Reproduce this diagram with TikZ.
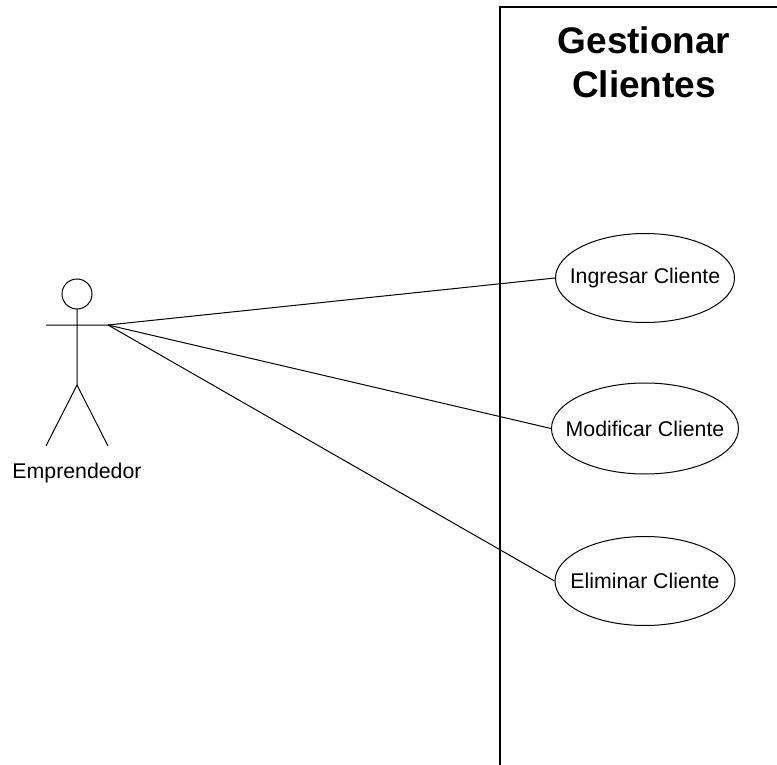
\documentclass[tikz,border=0pt]{standalone}
\usepackage{fontspec}
\setmainfont{Liberation Sans}
\usetikzlibrary{shapes.geometric}
\begin{document}
\begin{tikzpicture}[x=1pt,y=-1pt,line width=1pt,
  usecase/.style={draw,ellipse,inner sep=0pt,label={[inner sep=0pt,font=\fontsize{21.3}{25}\selectfont]center:#1}},
  lbl/.style={inner sep=0pt,align=center}]
\useasboundingbox (0,0) rectangle (777,765);
\draw[line width=1.5pt] (500,765) -- (500,7) -- (777,7);
\node[lbl,font=\bfseries\fontsize{37}{44}\selectfont] (title) at (644,62) {Gestionar\\Clientes};
\node[usecase={Ingresar Cliente},minimum width=179pt,minimum height=89pt] (u1) at (645,278) {};
\node[usecase={Modificar Cliente},minimum width=187pt,minimum height=91pt] (u2) at (645,428.5) {};
\node[usecase={Eliminar Cliente},minimum width=180pt,minimum height=89pt] (u3) at (645,581) {};
\draw (77,294) circle (15);
\coordinate (neck) at (77,309);
\coordinate (hip) at (77,385);
\coordinate (al) at (46,325);
\coordinate (ar) at (108,325);
\coordinate (ll) at (46,446);
\coordinate (rl) at (108,446);
\draw (neck) -- (hip) (al) -- (ar) (ll) -- (hip) -- (rl);
\node[lbl,font=\fontsize{21.3}{25}\selectfont] (actor) at (77,472.5) {Emprendedor};
\draw (ar) -- (u1.west);
\draw (ar) -- (u2.west);
\draw (ar) -- (u3.west);
\end{tikzpicture}
\end{document}
